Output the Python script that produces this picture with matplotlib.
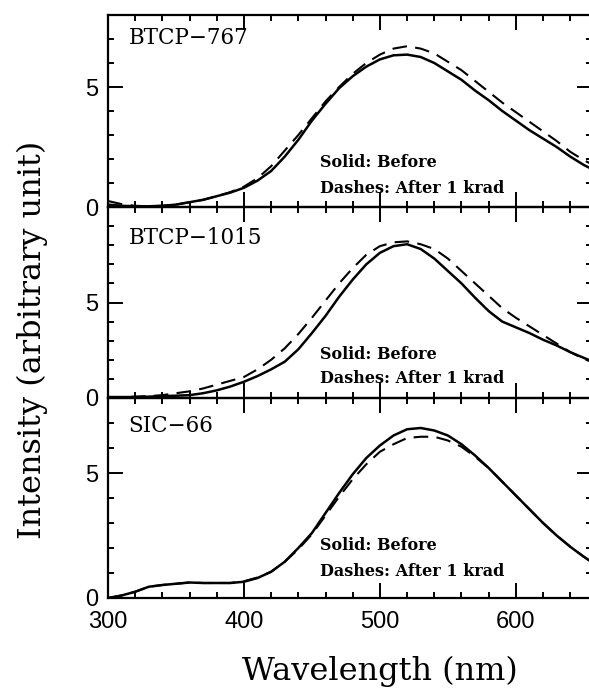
import numpy as np
import matplotlib.pyplot as plt
from matplotlib.ticker import MultipleLocator

# wavelength grid (nm)
wl = [300, 310, 320, 330, 340, 350, 360, 370, 380, 390, 400, 410, 420, 430,
      440, 450, 460, 470, 480, 490, 500, 510, 520, 530, 540, 550, 560, 570,
      580, 590, 600, 610, 620, 630, 640, 650, 656]

# BTCP-767
btcp767_before = [0.10, 0.05, 0.03, 0.03, 0.05, 0.10, 0.20, 0.30, 0.45, 0.60,
                  0.80, 1.10, 1.50, 2.10, 2.80, 3.60, 4.30, 4.95, 5.45, 5.85,
                  6.15, 6.32, 6.35, 6.25, 6.00, 5.65, 5.30, 4.85, 4.45, 4.00,
                  3.60, 3.20, 2.85, 2.50, 2.10, 1.75, 1.58]
btcp767_after = [0.25, 0.12, 0.05, 0.03, 0.05, 0.10, 0.20, 0.30, 0.45, 0.62,
                 0.85, 1.20, 1.70, 2.35, 3.00, 3.70, 4.40, 5.00, 5.55, 6.00,
                 6.35, 6.60, 6.70, 6.60, 6.40, 6.05, 5.70, 5.25, 4.80, 4.35,
                 3.95, 3.55, 3.15, 2.75, 2.30, 1.95, 1.78]

# BTCP-1015
btcp1015_before = [0.05, 0.05, 0.05, 0.07, 0.10, 0.12, 0.15, 0.25, 0.40, 0.60,
                   0.85, 1.15, 1.50, 1.90, 2.55, 3.40, 4.30, 5.30, 6.20, 7.00,
                   7.60, 7.95, 8.05, 7.80, 7.30, 6.65, 6.00, 5.25, 4.55, 4.00,
                   3.70, 3.40, 3.05, 2.75, 2.40, 2.10, 1.93]
btcp1015_after = [0.05, 0.05, 0.07, 0.10, 0.15, 0.25, 0.35, 0.50, 0.70, 0.90,
                  1.10, 1.50, 2.00, 2.60, 3.35, 4.20, 5.10, 6.00, 6.80, 7.50,
                  7.95, 8.15, 8.20, 8.05, 7.80, 7.30, 6.65, 6.00, 5.35, 4.70,
                  4.20, 3.75, 3.30, 2.85, 2.40, 2.05, 1.88]

# SIC-66
sic66_before = [0.00, 0.10, 0.25, 0.45, 0.52, 0.57, 0.62, 0.60, 0.60, 0.60,
                0.65, 0.80, 1.05, 1.45, 2.00, 2.60, 3.40, 4.20, 4.95, 5.60,
                6.10, 6.50, 6.75, 6.80, 6.70, 6.50, 6.15, 5.70, 5.20, 4.65,
                4.10, 3.55, 3.00, 2.50, 2.05, 1.65, 1.43]
sic66_after = [0.00, 0.10, 0.25, 0.45, 0.52, 0.57, 0.62, 0.60, 0.60, 0.60,
               0.67, 0.82, 1.05, 1.45, 1.95, 2.55, 3.30, 4.05, 4.75, 5.35,
               5.85, 6.15, 6.40, 6.45, 6.45, 6.30, 6.05, 5.65, 5.20, 4.65,
               4.10, 3.55, 3.00, 2.50, 2.05, 1.65, 1.43]

names = ["BTCP\u2212767", "BTCP\u22121015", "SIC\u221266"]
before = [btcp767_before, btcp1015_before, sic66_before]
after = [btcp767_after, btcp1015_after, sic66_after]
ymax = [8, 10, 8]

plt.rcParams['font.family'] = 'DejaVu Serif'

fig = plt.figure(figsize=(5.89, 6.88), dpi=100)
left = 108 / 589
width = (592 - 108) / 589
# panel edges in pixels from top
edges = [15, 207, 398, 598]

for i in range(3):
    top, bot = edges[i], edges[i + 1]
    ax = fig.add_axes([left, 1 - bot / 688, width, (bot - top) / 688])
    ax.plot(wl, before[i], color='black', lw=1.8)
    ax.plot(wl, after[i], color='black', lw=1.5, ls=(0, (7, 4)))
    ax.set_xlim(300, 656)
    ax.set_ylim(0, ymax[i])

    ax.xaxis.set_major_locator(MultipleLocator(100))
    ax.xaxis.set_minor_locator(MultipleLocator(20))
    ax.set_yticks([0, 5])
    ax.yaxis.set_minor_locator(MultipleLocator(1))
    ax.tick_params(which='both', direction='in', top=True, right=True, width=1.4)
    ax.tick_params(which='major', length=11)
    ax.tick_params(which='minor', length=4)
    ax.tick_params(axis='y', labelsize=17, pad=7)
    ax.tick_params(axis='x', labelsize=17, pad=9)
    for lab in ax.get_xticklabels() + ax.get_yticklabels():
        lab.set_family('Liberation Sans')
    for s in ax.spines.values():
        s.set_linewidth(1.6)
    if i < 2:
        ax.tick_params(axis='x', labelbottom=False)

    # sample name and legend text
    y_name = [6.8, 8.05, 6.65][i]
    ax.text(315, y_name, names[i], fontsize=15.5)
    y_s = [1.65, 2.05, 1.92][i]
    y_d = [0.58, 0.79, 0.88][i]
    ax.text(456, y_s, "Solid: Before", fontsize=11.5, fontweight='bold')
    ax.text(456, y_d, "Dashes: After 1 krad", fontsize=11.5, fontweight='bold')
    ax.patch.set_alpha(0)

fig.text(380 / 589, 1 - 680 / 688, "Wavelength (nm)", fontsize=23,
         ha='center', va='baseline')
fig.text(32 / 589, 1 - 340 / 688, "Intensity (arbitrary unit)", fontsize=23,
         rotation=90, ha='center', va='center')

fig.savefig("out.png", dpi=100)
